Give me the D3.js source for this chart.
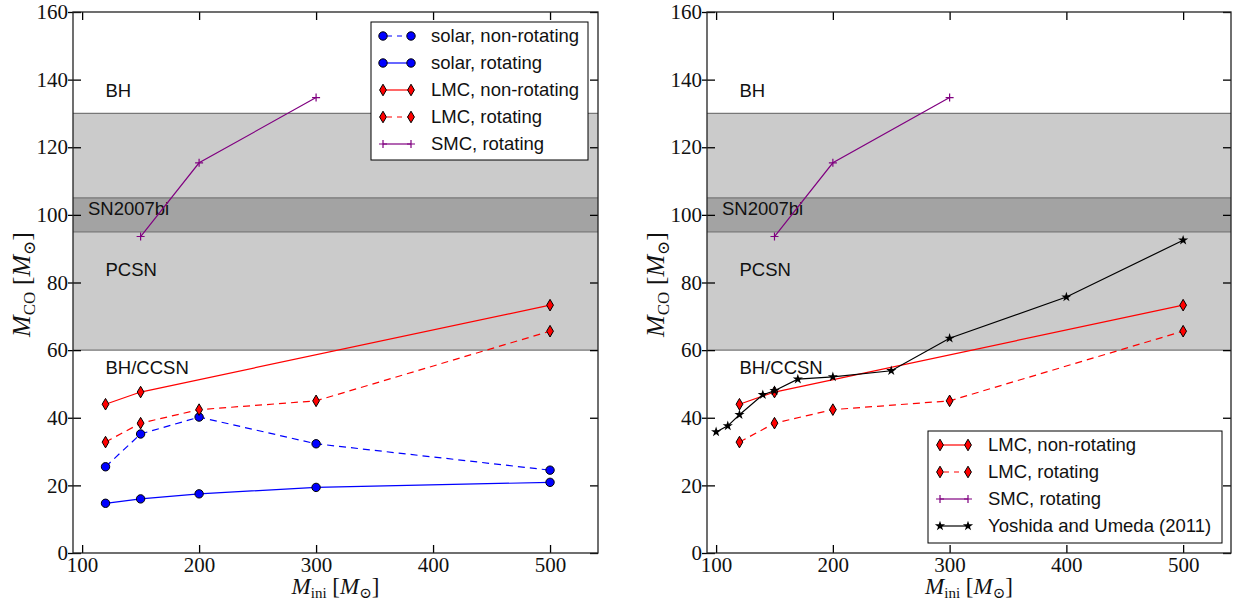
<!DOCTYPE html>
<html>
<head>
<meta charset="utf-8">
<script src="https://cdn.jsdelivr.net/npm/d3@7"></script>
<style>
  body { margin: 0; background: #fff; }
  svg text { fill: #111; }
</style>
</head>
<body>
<div class="chart"></div>
<script>
// masses on the x axis
var massesFull = [120, 150, 200, 300, 500];
var massesLmcNonRot = [120, 150, 500];
var massesSmc = [150, 200, 300];
var massesYoshida = [100, 110, 120, 140, 150, 170, 200, 250, 300, 400, 500];

// CO core masses
var solarNonRot = [25.5, 35.2, 40.2, 32.3, 24.5];
var solarRot = [14.7, 16.0, 17.5, 19.4, 20.9];
var lmcNonRot = [44.0, 47.6, 73.3];
var lmcRot = [32.8, 38.4, 42.4, 45.0, 65.6];
var smcRot = [93.6, 115.4, 134.7];
var yoshida = [35.8, 37.6, 40.9, 46.8, 48.0, 51.4, 52.1, 53.9, 63.5, 75.7, 92.5];

// shaded regions and their labels
var bands = [[60, 95, "#cbcbcb"], [95, 105, "#a3a3a3"], [105, 130, "#cbcbcb"]];
var bandEdges = [60, 95, 105, 130];
var regionLabels = [["BH", 120, 135], ["SN2007bi", 105, 100], ["PCSN", 120, 82], ["BH/CCSN", 120, 53]];

var xTicks = [100, 200, 300, 400, 500];
var yTicks = [0, 20, 40, 60, 80, 100, 120, 140, 160];

var w = 1248, h = 606;
var plotTop = 12, plotBottom = 553;

var svg = d3.select(".chart").append("svg")
  .attr("width", w)
  .attr("height", h)
  .style("font-family", "'Liberation Sans', Arial, sans-serif");

function zip(xs, ys) {
  return xs.map(function (x, i) { return { x: x, y: ys[i] }; });
}

var series = {
  solarNonRot: { label: "solar, non-rotating", data: zip(massesFull, solarNonRot), color: "#0000ff", dash: "7,5", marker: "circle" },
  solarRot: { label: "solar, rotating", data: zip(massesFull, solarRot), color: "#0000ff", dash: null, marker: "circle" },
  lmcNonRot: { label: "LMC, non-rotating", data: zip(massesLmcNonRot, lmcNonRot), color: "#ff0000", dash: null, marker: "diamond" },
  lmcRot: { label: "LMC, rotating", data: zip(massesFull, lmcRot), color: "#ff0000", dash: "7,5", marker: "diamond" },
  smcRot: { label: "SMC, rotating", data: zip(massesSmc, smcRot), color: "#800080", dash: null, marker: "plus" },
  yoshida: { label: "Yoshida and Umeda (2011)", data: zip(massesYoshida, yoshida), color: "#000000", dash: null, marker: "star" }
};

function drawMarker(g, type, color) {
  if (type === "circle") {
    g.append("circle").attr("r", 4.2).attr("fill", color).attr("stroke", "#000").attr("stroke-width", 1);
  } else if (type === "diamond") {
    g.append("path").attr("d", "M0,-5.8L3.4,0L0,5.8L-3.4,0Z").attr("fill", color).attr("stroke", "#000").attr("stroke-width", 1);
  } else if (type === "plus") {
    g.append("path").attr("d", "M-4,0H4M0,-4V4").attr("stroke", color).attr("stroke-width", 1.2);
  } else if (type === "star") {
    g.append("path").attr("d", d3.symbol().type(d3.symbolStar).size(32)()).attr("fill", color);
  }
}

function buildPanel(left, right, names, legend) {
  var x = d3.scaleLinear().domain([92.2, 541]).range([left, right]);
  var y = d3.scaleLinear().domain([0, 160]).range([plotBottom, plotTop]);
  var g = svg.append("g");

  // bands
  bands.forEach(function (b) {
    g.append("rect")
      .attr("x", left).attr("width", right - left)
      .attr("y", y(b[1])).attr("height", y(b[0]) - y(b[1]))
      .attr("fill", b[2]);
  });
  bandEdges.forEach(function (v) {
    g.append("line")
      .attr("x1", left).attr("x2", right)
      .attr("y1", y(v)).attr("y2", y(v))
      .attr("stroke", "#777").attr("stroke-width", 1.2);
  });

  // region labels
  regionLabels.forEach(function (r) {
    g.append("text")
      .attr("x", x(r[1])).attr("y", y(r[2]))
      .style("font-size", "18.5px")
      .text(r[0]);
  });

  // lines and markers
  var line = d3.line().x(function (d) { return x(d.x); }).y(function (d) { return y(d.y); });
  names.forEach(function (n) {
    var s = series[n];
    g.append("path")
      .datum(s.data)
      .attr("fill", "none")
      .attr("stroke", s.color)
      .attr("stroke-width", 1.2)
      .attr("stroke-dasharray", s.dash)
      .attr("d", line);
    s.data.forEach(function (d) {
      var m = g.append("g").attr("transform", "translate(" + x(d.x) + "," + y(d.y) + ")");
      drawMarker(m, s.marker, s.color);
    });
  });

  // axes
  var serif = "'Liberation Serif', 'DejaVu Serif', serif";
  var axB = g.append("g").attr("transform", "translate(0," + plotBottom + ")")
    .call(d3.axisBottom(x).tickValues(xTicks).tickSize(-8).tickPadding(4));
  var axT = g.append("g").attr("transform", "translate(0," + plotTop + ")")
    .call(d3.axisTop(x).tickValues(xTicks).tickSize(-8).tickFormat(""));
  var axL = g.append("g").attr("transform", "translate(" + left + ",0)")
    .call(d3.axisLeft(y).tickValues(yTicks).tickSize(5).tickPadding(0));
  var axL2 = g.append("g").attr("transform", "translate(" + left + ",0)")
    .call(d3.axisLeft(y).tickValues(yTicks).tickSize(-8).tickFormat(""));
  var axR = g.append("g").attr("transform", "translate(" + right + ",0)")
    .call(d3.axisRight(y).tickValues(yTicks).tickSize(-8).tickFormat(""));
  [axB, axT, axL, axL2, axR].forEach(function (a) {
    a.select(".domain").remove();
    a.selectAll(".tick line").attr("stroke", "#000").attr("stroke-width", 1.3);
    a.selectAll("text").style("font-family", serif).style("font-size", "21px").attr("fill", "#222");
  });

  // frame
  g.append("rect")
    .attr("x", left).attr("y", plotTop)
    .attr("width", right - left).attr("height", plotBottom - plotTop)
    .attr("fill", "none").attr("stroke", "#222").attr("stroke-width", 1.3);

  // axis labels
  var xl = g.append("text")
    .attr("x", (left + right) / 2).attr("y", 594)
    .attr("text-anchor", "middle")
    .style("font-family", serif).style("font-size", "23px");
  xl.append("tspan").style("font-style", "italic").text("M");
  xl.append("tspan").attr("dy", 4).style("font-size", "15px").text("ini");
  xl.append("tspan").attr("dy", -4).text(" [");
  xl.append("tspan").style("font-style", "italic").text("M");
  xl.append("tspan").attr("dy", 4).style("font-size", "15px").text("\u2299");
  xl.append("tspan").attr("dy", -4).text("]");

  var yl = g.append("text")
    .attr("transform", "translate(" + (left - 43) + "," + ((plotTop + plotBottom) / 2 + 2) + ") rotate(-90)")
    .attr("text-anchor", "middle")
    .style("font-family", serif).style("font-size", "26px");
  yl.append("tspan").style("font-style", "italic").text("M");
  yl.append("tspan").attr("dy", 5).style("font-size", "17px").text("CO");
  yl.append("tspan").attr("dy", -5).text(" [");
  yl.append("tspan").style("font-style", "italic").text("M");
  yl.append("tspan").attr("dy", 5).style("font-size", "17px").text("\u2299");
  yl.append("tspan").attr("dy", -5).text("]");

  // legend
  var lg = g.append("g");
  lg.append("rect")
    .attr("x", legend.x).attr("y", legend.y)
    .attr("width", legend.w).attr("height", legend.h)
    .attr("fill", "#fff").attr("stroke", "#000").attr("stroke-width", 1);
  legend.names.forEach(function (n, i) {
    var s = series[n];
    var cy = legend.y + 14 + i * 27;
    var x0 = legend.x + 12, x1 = legend.x + 40;
    lg.append("line")
      .attr("x1", x0).attr("x2", x1).attr("y1", cy).attr("y2", cy)
      .attr("stroke", s.color).attr("stroke-width", 1.2)
      .attr("stroke-dasharray", s.dash ? "5,5" : null)
      .attr("stroke-dashoffset", s.dash ? -4 : null);
    [x0, x1].forEach(function (px) {
      drawMarker(lg.append("g").attr("transform", "translate(" + px + "," + cy + ")"), s.marker, s.color);
    });
    lg.append("text")
      .attr("x", legend.x + 60).attr("y", cy + 6)
      .style("font-size", "18.5px")
      .text(s.label);
  });
}

buildPanel(73, 598, ["solarNonRot", "solarRot", "lmcNonRot", "lmcRot", "smcRot"],
  { x: 371, y: 22, w: 217, h: 138, names: ["solarNonRot", "solarRot", "lmcNonRot", "lmcRot", "smcRot"] });
buildPanel(707, 1231, ["lmcNonRot", "lmcRot", "smcRot", "yoshida"],
  { x: 928, y: 431, w: 294, h: 112, names: ["lmcNonRot", "lmcRot", "smcRot", "yoshida"] });
</script>
</body>
</html>
